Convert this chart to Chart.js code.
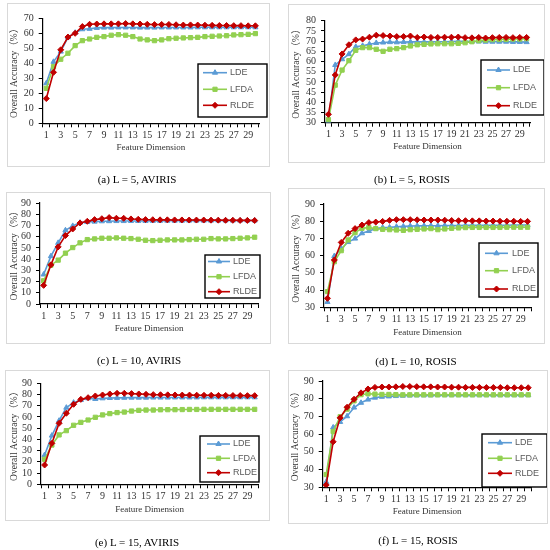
<!DOCTYPE html>
<html>
<head>
<meta charset="utf-8">
<script src="https://cdn.jsdelivr.net/npm/chart.js@4.4.1/dist/chart.umd.min.js"></script>
<style>
  html, body { margin: 0; padding: 0; background: #fff; }
  #page { position: relative; width: 550px; height: 550px; overflow: hidden; background: #fff; }
  .frame { position: absolute; box-sizing: border-box; border: 1px solid #d9d9d9; pointer-events: none; }
  canvas { position: absolute; }
  .cap { position: absolute; font-family: 'Liberation Serif', serif; font-size: 11px; color: #000;
         white-space: nowrap; transform: translate(-50%, -50%); }
</style>
</head>
<body>
<div id="page"></div>
<script>
Chart.defaults.animation = false;

// feature dimension 1..30
const dims = [1, 2, 3, 4, 5, 6, 7, 8, 9, 10, 11, 12, 13, 14, 15,
              16, 17, 18, 19, 20, 21, 22, 23, 24, 25, 26, 27, 28, 29, 30];
const seriesNames = ['LDE', 'LFDA', 'RLDE'];

// (a) L = 5, AVIRIS
const ldeA = [26.7, 41.0, 47.8, 57.3, 60.4, 62.7, 63.0, 63.6, 63.8, 63.8,
              63.9, 63.9, 63.9, 63.8, 63.8, 63.8, 63.9, 63.9, 63.9, 63.9,
              63.9, 64.0, 64.0, 64.0, 64.0, 64.0, 64.0, 64.0, 64.0, 64.0];
const lfdaA = [23.3, 37.8, 42.7, 46.7, 51.8, 55.1, 56.2, 57.3, 57.8, 58.7,
               59.1, 58.7, 57.8, 56.2, 55.6, 55.1, 55.6, 56.4, 56.7, 56.9,
               57.1, 57.3, 57.8, 58.0, 58.2, 58.4, 58.9, 59.1, 59.3, 59.8];
const rldeA = [16.5, 34.0, 49.0, 57.5, 60.0, 64.5, 66.0, 66.2, 66.3, 66.3,
               66.3, 66.5, 66.3, 66.2, 66.0, 65.8, 65.9, 65.9, 65.7, 65.5,
               65.6, 65.5, 65.4, 65.3, 65.2, 65.2, 65.1, 65.1, 65.0, 65.0];

// (b) L = 5, ROSIS
const ldeB = [31.0, 58.3, 61.1, 63.6, 67.2, 67.7, 68.5, 69.1, 69.3, 69.5,
              69.4, 69.5, 69.6, 69.6, 69.6, 69.6, 69.7, 69.7, 69.8, 69.9,
              69.9, 69.8, 69.8, 69.7, 69.7, 69.7, 69.7, 69.6, 69.6, 69.5];
const lfdaB = [31.5, 48.4, 55.8, 60.4, 65.5, 66.8, 66.8, 66.0, 65.0, 66.0,
               66.3, 66.8, 67.6, 68.2, 68.4, 68.6, 68.7, 68.7, 68.7, 68.9,
               69.2, 69.7, 70.2, 70.5, 70.7, 70.8, 70.8, 71.0, 71.0, 71.2];
const rldeB = [34.1, 53.4, 63.7, 68.2, 70.6, 71.0, 71.9, 72.9, 72.7, 72.5,
               72.2, 72.2, 72.5, 71.8, 72.0, 71.8, 71.8, 71.9, 71.9, 72.0,
               71.7, 71.6, 71.8, 71.5, 71.7, 71.8, 71.8, 71.7, 71.8, 71.8];

// (c) L = 10, AVIRIS
const ldeC = [26.3, 42.6, 54.5, 65.7, 69.6, 72.5, 73.1, 73.4, 73.7, 73.8,
              73.9, 73.9, 74.0, 74.0, 74.0, 74.1, 74.1, 74.2, 74.2, 74.2,
              74.3, 74.3, 74.3, 74.3, 74.4, 74.4, 74.4, 74.4, 74.4, 74.4];
const lfdaC = [20.7, 34.6, 39.1, 45.3, 50.3, 54.5, 57.4, 58.0, 58.6, 58.6,
               58.9, 58.6, 58.3, 57.7, 56.8, 56.5, 56.8, 57.1, 57.1, 57.1,
               57.4, 57.7, 57.7, 58.3, 58.0, 58.0, 58.3, 58.6, 58.9, 59.5];
const rldeC = [16.6, 34.9, 50.9, 61.0, 66.9, 72.2, 73.7, 75.2, 76.0, 77.0,
               76.4, 76.4, 75.8, 75.5, 75.2, 75.1, 75.0, 75.0, 74.9, 74.9,
               74.8, 74.8, 74.8, 74.7, 74.7, 74.6, 74.6, 74.5, 74.5, 74.4];

// (d) L = 10, ROSIS
const ldeD = [33.1, 59.8, 64.0, 67.9, 69.9, 73.0, 74.3, 75.7, 76.3, 76.4,
              76.8, 77.0, 77.2, 77.3, 77.4, 77.4, 77.4, 77.5, 77.5, 77.5,
              77.6, 77.6, 77.6, 77.7, 77.7, 77.7, 77.7, 77.8, 77.8, 77.8];
const lfdaD = [39.1, 56.5, 62.9, 69.1, 73.4, 75.9, 76.3, 75.7, 75.3, 75.1,
               74.9, 74.7, 75.1, 75.3, 75.5, 75.7, 75.1, 75.5, 75.9, 76.1,
               76.3, 76.4, 76.4, 76.4, 76.4, 76.4, 76.5, 76.5, 76.5, 76.5];
const rldeD = [35.2, 57.5, 67.7, 73.0, 75.7, 77.8, 79.2, 79.5, 79.9, 80.5,
               80.9, 80.9, 80.9, 80.8, 80.7, 80.7, 80.7, 80.6, 80.4, 80.3,
               80.3, 80.2, 80.2, 80.1, 80.1, 80.0, 80.0, 80.0, 79.9, 79.9];

// (e) L = 15, AVIRIS
const ldeE = [26.1, 43.4, 56.7, 68.3, 72.8, 75.1, 76.6, 76.0, 76.6, 76.9,
              77.0, 77.1, 77.2, 77.2, 77.2, 77.3, 77.3, 77.3, 77.4, 77.4,
              77.4, 77.4, 77.5, 77.5, 77.5, 77.5, 77.5, 77.5, 77.5, 77.5];
const lfdaE = [22.3, 35.0, 44.0, 47.8, 52.6, 55.2, 57.3, 59.7, 61.8, 63.0,
               63.9, 64.4, 65.3, 65.9, 66.2, 66.2, 66.4, 66.5, 66.5, 66.6,
               66.7, 66.7, 66.8, 66.8, 66.8, 66.8, 66.8, 66.8, 66.8, 66.8];
const rldeE = [17.2, 36.5, 54.4, 63.3, 71.3, 75.7, 77.2, 78.7, 79.6, 80.5,
               81.1, 81.1, 80.8, 80.5, 80.2, 79.9, 79.8, 79.7, 79.6, 79.5,
               79.5, 79.4, 79.3, 79.3, 79.2, 79.2, 79.1, 79.1, 79.0, 79.0];

// (f) L = 15, ROSIS
const ldeF = [33.0, 63.8, 66.9, 70.1, 75.0, 77.7, 79.5, 80.6, 81.1, 81.3,
              81.5, 81.7, 81.8, 81.9, 81.9, 81.9, 82.0, 82.0, 82.0, 82.0,
              82.0, 82.0, 82.0, 82.0, 82.0, 82.0, 82.0, 82.0, 82.0, 82.0];
const lfdaF = [37.2, 61.5, 69.8, 74.1, 78.8, 82.3, 82.8, 82.6, 82.4, 82.4,
               82.3, 82.2, 82.2, 82.2, 82.2, 82.2, 82.2, 82.2, 82.2, 82.2,
               82.2, 82.2, 82.2, 82.2, 82.2, 82.2, 82.2, 82.2, 82.2, 82.2];
const rldeF = [31.3, 55.7, 69.2, 75.2, 79.7, 83.3, 85.5, 86.4, 86.6, 86.6,
               86.7, 86.9, 86.9, 86.8, 86.7, 86.7, 86.6, 86.6, 86.5, 86.5,
               86.4, 86.4, 86.4, 86.3, 86.3, 86.3, 86.2, 86.2, 86.2, 86.2];

// y axis [min, max, step]
const yAxisA = [0, 70, 10];
const yAxisB = [30, 80, 5];
const yAxisC = [0, 90, 10];
const yAxisD = [30, 90, 10];
const yAxisE = [0, 90, 10];
const yAxisF = [30, 90, 10];

const captions = ['(a) L = 5, AVIRIS', '(b) L = 5, ROSIS', '(c) L = 10, AVIRIS',
                  '(d) L = 10, ROSIS', '(e) L = 15, AVIRIS', '(f) L = 15, ROSIS'];

const styles = [
  { color: '#5B9BD5', point: 'triangle', radius: 3, order: 3 },
  { color: '#92D050', point: 'rect', radius: 3, order: 2 },
  { color: '#C00000', point: 'rectRot', radius: 3, order: 1 }
];

// page layout (px): frame box, plot area, title positions, legend box, caption centre
const panels = [
  { series: [ldeA, lfdaA, rldeA], yAxis: yAxisA, caption: captions[0],
    box: [7, 3, 270, 167], area: [42.7, 18.3, 259, 123.3], yTitleX: 14, xTitleY: 148,
    legend: { box: [198, 64, 267, 117], rows: [72.7, 89.3, 105.3], line: [203, 227], text: 230 },
    cap: [137, 179] },
  { series: [ldeB, lfdaB, rldeB], yAxis: yAxisB, caption: captions[1],
    box: [288, 4, 545, 163], area: [325, 20.7, 530, 122.7], yTitleX: 296.7, xTitleY: 146.7,
    legend: { box: [481, 60, 544, 115], rows: [70, 87.7, 105.7], line: [487, 510], text: 513 },
    cap: [412, 179] },
  { series: [ldeC, lfdaC, rldeC], yAxis: yAxisC, caption: captions[2],
    box: [6, 192, 271, 344], area: [40, 202.7, 258.3, 304], yTitleX: 14, xTitleY: 328.3,
    legend: { box: [205, 255, 260, 298], rows: [261.5, 276.7, 291.7], line: [208, 230], text: 233 },
    cap: [139, 360] },
  { series: [ldeD, lfdaD, rldeD], yAxis: yAxisD, caption: captions[3],
    box: [288, 188, 545, 344], area: [324, 204, 531, 307.3], yTitleX: 296.7, xTitleY: 332.3,
    legend: { box: [479, 243, 538, 297], rows: [253.3, 270.7, 289], line: [485, 508], text: 512 },
    cap: [416, 361] },
  { series: [ldeE, lfdaE, rldeE], yAxis: yAxisE, caption: captions[4],
    box: [5, 370, 270, 521], area: [41, 383.3, 258.3, 484.3], yTitleX: 14, xTitleY: 509.3,
    legend: { box: [200, 436, 259, 482], rows: [444, 458.3, 472.7], line: [207, 230], text: 233 },
    cap: [137, 542] },
  { series: [ldeF, lfdaF, rldeF], yAxis: yAxisF, caption: captions[5],
    box: [288, 370, 548, 524], area: [322.7, 376.7, 531.7, 487.3], yTitleX: 295, xTitleY: 511.7,
    legend: { box: [482, 434, 547, 487], rows: [442.7, 458.3, 473.3], line: [488, 512], text: 515 },
    cap: [418, 540] }
];

const page = document.getElementById('page');
const serif = "'Liberation Serif', 'Noto Sans CJK SC', serif";
const tickFont = { family: serif, size: 10 };
const yTitleFont = { family: serif, size: 9.5, lineHeight: 1 };
const xTitleFont = { family: serif, size: 9, lineHeight: 1 };
const textColor = '#333';

// legend drawn inside a black box, like the Excel originals
function boxLegend(p) {
  const ox = p.box[0], oy = p.box[1];
  const lg = p.legend;
  return {
    id: 'boxLegend',
    afterDatasetsDraw(chart) {
      const ctx = chart.ctx;
      const [x1, y1, x2, y2] = lg.box;
      ctx.save();
      ctx.fillStyle = '#fff';
      ctx.fillRect(x1 - ox, y1 - oy, x2 - x1, y2 - y1);
      ctx.strokeStyle = '#000';
      ctx.lineWidth = 1.4;
      ctx.strokeRect(x1 - ox, y1 - oy, x2 - x1, y2 - y1);
      chart.data.datasets.forEach((ds, i) => {
        const y = lg.rows[i] - oy;
        const a = lg.line[0] - ox, b = lg.line[1] - ox;
        ctx.strokeStyle = ds.borderColor;
        ctx.lineWidth = ds.borderWidth;
        ctx.beginPath();
        ctx.moveTo(a, y);
        ctx.lineTo(b, y);
        ctx.stroke();
        ctx.fillStyle = ds.pointBackgroundColor;
        ctx.strokeStyle = ds.pointBorderColor;
        ctx.lineWidth = 1;
        Chart.helpers.drawPoint(ctx, { pointStyle: ds.pointStyle, radius: ds.pointRadius, rotation: 0, borderWidth: 1 }, (a + b) / 2, y);
        ctx.fillStyle = '#595959';
        ctx.font = "9px 'Liberation Sans', sans-serif";
        ctx.textBaseline = 'middle';
        ctx.textAlign = 'left';
        ctx.fillText(ds.label, lg.text - ox, y);
      });
      ctx.restore();
    }
  };
}

panels.forEach(p => {
  const [bl, bt, br, bb] = p.box;
  const [al, at, ar, ab] = p.area;
  const w = br - bl, h = bb - bt;

  const canvas = document.createElement('canvas');
  canvas.width = w;
  canvas.height = h;
  canvas.style.left = bl + 'px';
  canvas.style.top = bt + 'px';
  canvas.style.width = w + 'px';
  canvas.style.height = h + 'px';
  page.appendChild(canvas);

  const frame = document.createElement('div');
  frame.className = 'frame';
  frame.style.left = bl + 'px';
  frame.style.top = bt + 'px';
  frame.style.width = w + 'px';
  frame.style.height = h + 'px';
  page.appendChild(frame);

  const cap = document.createElement('div');
  cap.className = 'cap';
  cap.textContent = p.caption;
  cap.style.left = p.cap[0] + 'px';
  cap.style.top = p.cap[1] + 'px';
  page.appendChild(cap);

  const yPad = (p.yTitleX - bl) - yTitleFont.size / 2;
  const xPad = (bb - p.xTitleY) - xTitleFont.size / 2;

  new Chart(canvas, {
    type: 'line',
    data: {
      labels: dims,
      datasets: p.series.map((vals, i) => ({
        label: seriesNames[i],
        data: vals,
        borderColor: styles[i].color,
        backgroundColor: styles[i].color,
        pointBackgroundColor: styles[i].color,
        pointBorderColor: styles[i].color,
        pointStyle: styles[i].point,
        pointRadius: styles[i].radius,
        pointBorderWidth: 1,
        borderWidth: 1.6,
        tension: 0,
        fill: false,
        order: styles[i].order
      }))
    },
    options: {
      responsive: false,
      animation: false,
      layout: { padding: { left: 0, top: at - bt, right: br - ar, bottom: 0 } },
      scales: {
        x: {
          type: 'category',
          offset: true,
          grid: { offset: true, drawOnChartArea: false, drawTicks: true, tickLength: 4, color: '#000', lineWidth: 1 },
          border: { color: '#000', width: 1.2 },
          ticks: {
            autoSkip: false, maxRotation: 0, minRotation: 0, padding: 2,
            color: textColor, font: tickFont,
            callback: (v, i) => (i % 2 === 0 ? String(dims[i]) : '')
          },
          title: { display: true, text: 'Feature Dimension', color: textColor, font: xTitleFont,
                   padding: { top: 0, bottom: xPad } },
          afterFit: s => { s.height = bb - ab; }
        },
        y: {
          min: p.yAxis[0],
          max: p.yAxis[1],
          grid: { drawOnChartArea: false, drawTicks: true, tickLength: 4, color: '#000', lineWidth: 1 },
          border: { color: '#000', width: 1.2 },
          ticks: { stepSize: p.yAxis[2], autoSkip: false, padding: 5, color: textColor, font: tickFont },
          title: { display: true, text: 'Overall Accuracy（%）', color: textColor, font: yTitleFont,
                   padding: { top: yPad, bottom: 0 } },
          afterFit: s => { s.width = al - bl; }
        }
      },
      plugins: {
        legend: { display: false },
        tooltip: { enabled: false }
      }
    },
    plugins: [boxLegend(p)]
  });
});
</script>
</body>
</html>
